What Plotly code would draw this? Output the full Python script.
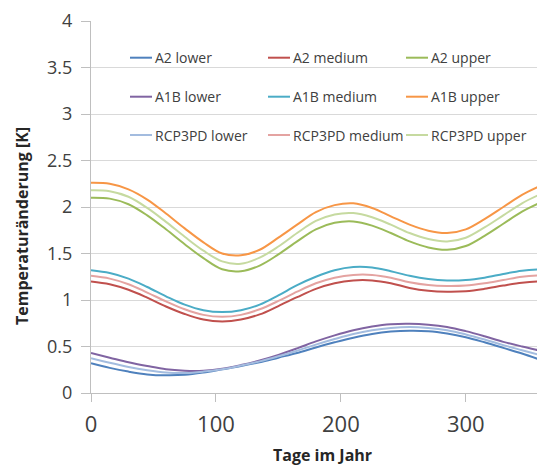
import plotly.graph_objects as go

days = [0, 15, 30, 45, 60, 75, 90, 105, 120, 135, 150, 165, 180, 195, 210, 225,
        240, 255, 270, 285, 300, 315, 330, 345, 360, 365]

a2_lower = [0.32, 0.27, 0.23, 0.20, 0.19, 0.195, 0.22, 0.255, 0.29, 0.33, 0.38, 0.43, 0.49,
            0.545, 0.595, 0.635, 0.66, 0.67, 0.665, 0.64, 0.60, 0.545, 0.485, 0.425, 0.355, 0.33]
a2_medium = [1.20, 1.17, 1.11, 1.025, 0.93, 0.85, 0.79, 0.77, 0.79, 0.845, 0.935, 1.03, 1.12,
             1.18, 1.21, 1.21, 1.18, 1.13, 1.10, 1.09, 1.095, 1.12, 1.155, 1.185, 1.20, 1.20]
a2_upper = [2.10, 2.09, 2.03, 1.91, 1.76, 1.60, 1.45, 1.33, 1.31, 1.37, 1.49, 1.63, 1.76,
            1.83, 1.845, 1.80, 1.72, 1.63, 1.565, 1.54, 1.58, 1.69, 1.82, 1.95, 2.05, 2.08]
a1b_lower = [0.43, 0.38, 0.33, 0.29, 0.255, 0.24, 0.24, 0.26, 0.30, 0.35, 0.41, 0.48, 0.555,
             0.62, 0.675, 0.715, 0.74, 0.745, 0.735, 0.71, 0.665, 0.61, 0.55, 0.50, 0.455, 0.44]
a1b_medium = [1.32, 1.29, 1.23, 1.14, 1.04, 0.95, 0.89, 0.87, 0.89, 0.95, 1.05, 1.16, 1.25,
              1.32, 1.355, 1.35, 1.31, 1.26, 1.225, 1.21, 1.215, 1.24, 1.28, 1.315, 1.33, 1.33]
a1b_upper = [2.26, 2.25, 2.19, 2.08, 1.93, 1.77, 1.62, 1.50, 1.48, 1.54, 1.67, 1.81, 1.945,
             2.02, 2.04, 1.99, 1.90, 1.81, 1.745, 1.72, 1.76, 1.87, 2.00, 2.13, 2.23, 2.26]
rcp_lower = [0.375, 0.325, 0.28, 0.245, 0.22, 0.215, 0.23, 0.255, 0.295, 0.34, 0.395, 0.455, 0.52,
             0.58, 0.635, 0.675, 0.70, 0.71, 0.70, 0.675, 0.63, 0.575, 0.515, 0.46, 0.405, 0.385]
rcp_medium = [1.26, 1.23, 1.17, 1.08, 0.985, 0.90, 0.84, 0.82, 0.84, 0.90, 0.99, 1.09, 1.18,
              1.24, 1.27, 1.27, 1.24, 1.19, 1.16, 1.15, 1.155, 1.18, 1.215, 1.25, 1.265, 1.265]
rcp_upper = [2.18, 2.17, 2.11, 1.99, 1.84, 1.68, 1.53, 1.415, 1.39, 1.455, 1.575, 1.72, 1.85,
             1.92, 1.935, 1.89, 1.81, 1.72, 1.655, 1.63, 1.67, 1.78, 1.91, 2.04, 2.14, 2.17]

series_names = ["A2 lower", "A2 medium", "A2 upper",
                "A1B lower", "A1B medium", "A1B upper",
                "RCP3PD lower", "RCP3PD medium", "RCP3PD upper"]
series_values = [a2_lower, a2_medium, a2_upper,
                 a1b_lower, a1b_medium, a1b_upper,
                 rcp_lower, rcp_medium, rcp_upper]
colors = ["#4F81BD", "#C0504D", "#9BBB59",
          "#8064A2", "#4BACC6", "#F79646",
          "#A3BCDF", "#E4A3A1", "#C6DAA0"]

y_ticks = [0, 0.5, 1, 1.5, 2, 2.5, 3, 3.5, 4]
y_tick_text = ["0", "0.5", "1", "1.5", "2", "2.5", "3", "3.5", "4"]
x_ticks = [0, 100, 200, 300]

W, H = 537, 466
ML, MR, MT, MB = 91, 0, 21, 73
PW, PH = W - ML - MR, H - MT - MB
FONT = "Open Sans, Lato, sans-serif"


def px_x(x):
    return (x - ML) / PW


def px_y(y):
    return (H - MB - y) / PH


fig = go.Figure()
for name, vals, col in zip(series_names, series_values, colors):
    fig.add_trace(go.Scatter(x=days, y=vals, mode="lines", name=name,
                             line=dict(color=col, width=2, shape="spline", smoothing=1.0),
                             showlegend=False))

# manual legend (3 x 3 grid inside plot area)
col_x = [130, 268, 406]
row_y = [57.7, 96.7, 135]
shapes = []
annotations = []
for i, (name, col) in enumerate(zip(series_names, colors)):
    r, c = divmod(i, 3)
    x0 = col_x[c]
    yy = row_y[r]
    shapes.append(dict(type="line", xref="paper", yref="paper",
                       x0=px_x(x0), x1=px_x(x0 + 22), y0=px_y(yy), y1=px_y(yy),
                       line=dict(color=col, width=2)))
    annotations.append(dict(text=name, xref="paper", yref="paper",
                            x=px_x(x0 + 23), y=px_y(yy), xanchor="left", yanchor="middle",
                            showarrow=False, font=dict(family=FONT, size=14, color="#404040")))

annotations.append(dict(text="<b>Tage im Jahr</b>", xref="paper", yref="paper",
                        x=px_x(322), y=px_y(455), xanchor="center", yanchor="middle",
                        showarrow=False, font=dict(family=FONT, size=16, color="#262626")))
annotations.append(dict(text="<b>Temperaturänderung [K]</b>", xref="paper", yref="paper",
                        x=px_x(22), y=px_y(226), xanchor="center", yanchor="middle",
                        textangle=-90,
                        showarrow=False, font=dict(family=FONT, size=16, color="#262626")))

fig.update_layout(
    width=W, height=H,
    margin=dict(l=ML, r=MR, t=MT, b=MB, pad=0),
    paper_bgcolor="white", plot_bgcolor="white",
    font=dict(family=FONT, color="#404040"),
    shapes=shapes, annotations=annotations,
    showlegend=False,
)
fig.update_xaxes(range=[0, 357], tickvals=x_ticks, ticks="outside", ticklen=8,
                 tickcolor="#BFBFBF", showgrid=False, zeroline=False,
                 showline=True, linecolor="#BFBFBF", linewidth=1,
                 tickfont=dict(family=FONT, size=22, color="#404040"),
                 ticklabelstandoff=4)
fig.update_yaxes(range=[0, 4], tickvals=y_ticks, ticktext=y_tick_text, ticks="outside",
                 ticklen=9, tickcolor="#BFBFBF", showgrid=True, gridcolor="#D9D9D9",
                 gridwidth=1, zeroline=False, showline=True, linecolor="#BFBFBF",
                 linewidth=1, tickfont=dict(family=FONT, size=18, color="#404040"),
                 ticklabelstandoff=5)

fig.write_html("out.html", config={"displayModeBar": False},
               post_script="document.body.style.margin='0';document.body.style.padding='0';"
                           "document.body.style.overflow='hidden';")
